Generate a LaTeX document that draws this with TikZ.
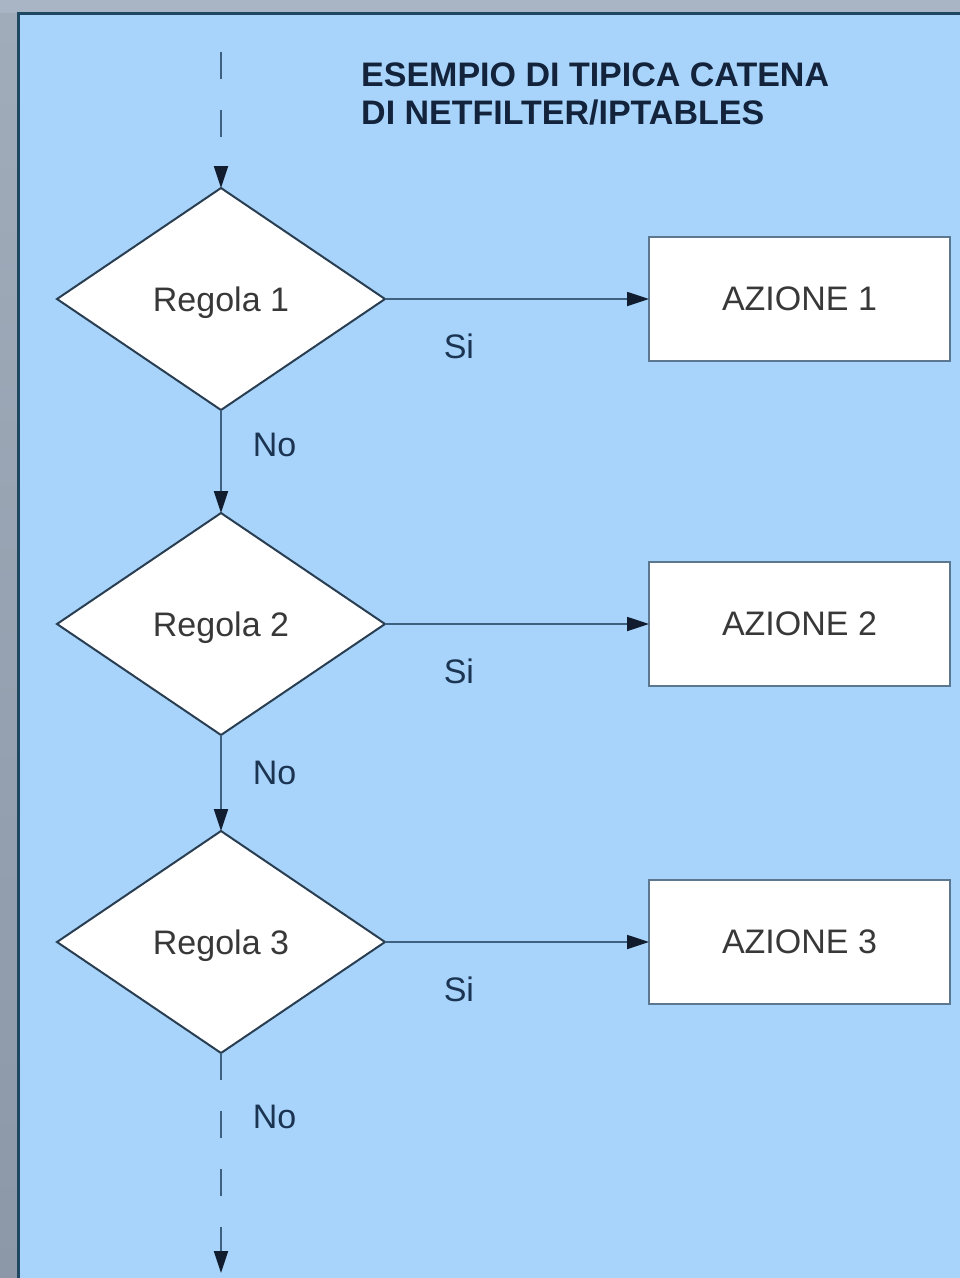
\documentclass[tikz,border=0pt]{standalone}
\usepackage{fontspec}
\setmainfont{Liberation Sans}
\usepackage{xcolor}
\usetikzlibrary{arrows.meta,positioning,shapes.geometric}
\definecolor{panelblue}{HTML}{A8D4FB}
\definecolor{frameedge}{HTML}{1E4862}
\definecolor{outergray}{HTML}{A9B5C4}
\definecolor{stripgray}{HTML}{8C98A8}
\definecolor{shapeline}{HTML}{2A3E52}
\definecolor{boxline}{HTML}{5C7790}
\definecolor{flowline}{HTML}{3E6180}
\definecolor{tipnavy}{HTML}{111C2E}
\definecolor{labelnavy}{HTML}{1B3452}
\definecolor{titlenavy}{HTML}{13233B}
\tikzset{
  bigfont/.style={font=\fontsize{34}{38}\selectfont},
  rulebox/.style={
    diamond,
    draw=shapeline,
    line width=2pt,
    fill=white,
    minimum width=328pt,
    minimum height=222pt,
    inner sep=0pt,
    outer sep=0pt,
    text depth=0pt,
    text=black!78,
    bigfont
  },
  actionbox/.style={
    rectangle,
    draw=boxline,
    line width=1.8pt,
    fill=white,
    minimum width=301pt,
    minimum height=124pt,
    outer sep=0pt,
    text depth=0pt,
    text=black!78,
    bigfont
  },
  edgelabel/.style={inner sep=0pt, text=labelnavy, bigfont},
  flow/.style={-{Triangle[length=22pt,width=14pt,color=tipnavy]}, line width=1.8pt, draw=flowline},
  openflow/.style={flow, dash pattern=on 27pt off 31pt}
}

\begin{document}
\begin{tikzpicture}[
  x=1pt, y=-1pt,
  node distance=100pt and 264pt
]
\useasboundingbox (0,0) rectangle (960,1278);
% frame around the panel
\fill[outergray] (0,0) rectangle (960,1278);
\shade[top color=outergray!95!black, bottom color=stripgray] (0,13) rectangle (18,1278);
\fill[panelblue] (18,13) rectangle (960,1278);
\draw[frameedge, line width=3pt] (18,1278) -- (18,13) -- (960,13);

\node[anchor=north west, inner sep=0pt, align=left, text=titlenavy,
      font=\fontsize{34}{38}\selectfont\bfseries] (title) at (361,63)
  {ESEMPIO DI TIPICA CATENA\\DI NETFILTER/IPTABLES};

\node[rulebox] (r1) at (221,299) {Regola 1};
\node[rulebox, below=103pt of r1] (r2) {Regola 2};
\node[rulebox, below=96pt of r2] (r3) {Regola 3};
\node[actionbox, right=of r1] (a1) {AZIONE 1};
\node[actionbox, right=of r2] (a2) {AZIONE 2};
\node[actionbox, right=of r3] (a3) {AZIONE 3};
\coordinate (feed) at (221,52);
\coordinate (drain) at (221,1273);

\draw[openflow] (feed) -- (r1);
\draw[flow] (r1) -- node[edgelabel, pos=0.28, below=34pt] {Si} (a1);
\draw[flow] (r2) -- node[edgelabel, pos=0.28, below=34pt] {Si} (a2);
\draw[flow] (r3) -- node[edgelabel, pos=0.28, below=34pt] {Si} (a3);
\draw[flow] (r1) -- node[edgelabel, pos=0.34, right=31pt] {No} (r2);
\draw[flow] (r2) -- node[edgelabel, pos=0.40, right=31pt] {No} (r3);
\draw[openflow] (r3) -- node[edgelabel, pos=0.29, right=31pt] {No} (drain);
\end{tikzpicture}
\end{document}
